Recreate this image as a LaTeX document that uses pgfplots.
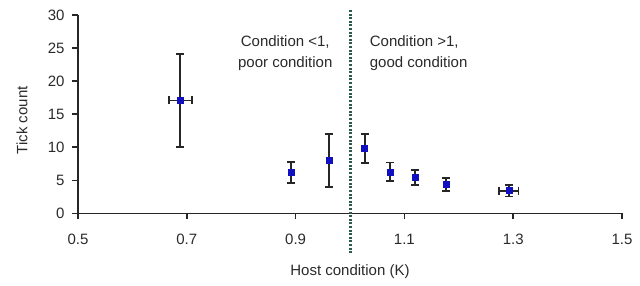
\documentclass[border=0pt]{standalone}
\usepackage{fontspec}
\setmainfont{Liberation Sans}
\usepackage{pgfplots}
\pgfplotsset{compat=1.18}
\definecolor{txt}{HTML}{2A2A2A}
\definecolor{mk}{HTML}{1010C0}
\definecolor{vline}{HTML}{2E5A4A}
\begin{document}
\begin{tikzpicture}
\path[use as bounding box] (-78pt,-72.5pt) rectangle (562pt,213.5pt);
\begin{axis}[
  at={(0,0)}, anchor=south west,
  scale only axis, width=544pt, height=198.5pt,
  xmin=0.5, xmax=1.5, ymin=0, ymax=30,
  xtick={0.5,0.7,...,1.5},
  ytick={0,5,...,30},
  xticklabels={0.5,0.7,0.9,1.1,1.3,1.5},
  axis x line*=bottom, axis y line*=left,
  axis line style={line width=1.7pt, color=black!85, -},
  tick style={line width=1.7pt, color=black!85},
  tick align=outside, major tick length=6pt,
  font=\fontsize{15}{18}\selectfont\color{txt},
  /pgf/number format/assume math mode=true,
  xticklabel style={yshift=-11pt},
  yticklabel style={xshift=-4pt},
  xlabel={Host condition (K)},
  ylabel={Tick count},
  xlabel style={at={(axis description cs:0.5,-0.295)}, anchor=center},
  ylabel style={at={(axis description cs:-0.103,0.47)}, anchor=center, rotate=0},
  clip=false,
]
\addplot[only marks, mark=square*, mark size=3pt, color=mk,
  error bars/.cd, y dir=both, y explicit,
  error bar style={line width=1.7pt, color=black!85},
  error mark options={line width=1.7pt, color=black!85, mark size=4pt, rotate=90}]
  coordinates {
  (0.688,17.1) +- (0,7.0)
  (0.892,6.2) +- (0,1.6)
  (0.961,8.0) +- (0,4.0)
  (1.027,9.8) +- (0,2.2)
  (1.073,6.3) +- (0,1.4)
  (1.120,5.45) +- (0,1.15)
  (1.176,4.4) +- (0,1.0)
  (1.292,3.45) +- (0,0.88)
  };
\addplot[draw=none, mark=none,
  error bars/.cd, x dir=both, x explicit,
  error bar style={line width=1.7pt, color=black!85},
  error mark options={line width=1.7pt, color=black!85, mark size=4pt, rotate=90}]
  coordinates {
  (0.688,17.1) +- (0.021,0)
  (1.292,3.45) +- (0.018,0)
  };
\draw[vline, line width=2.4pt, dash pattern=on 2pt off 1.6pt] (axis cs:1.001,-6) -- (axis cs:1.001,30.8);
\node[align=center, text=txt, font=\fontsize{15}{21}\selectfont] at (axis cs:0.881,24.3) {Condition {<}1,\\poor condition};
\node[align=left, anchor=west, text=txt, font=\fontsize{15}{21}\selectfont] at (axis cs:1.030,24.3) {Condition {>}1,\\good condition};
\end{axis}
\end{tikzpicture}
\end{document}
